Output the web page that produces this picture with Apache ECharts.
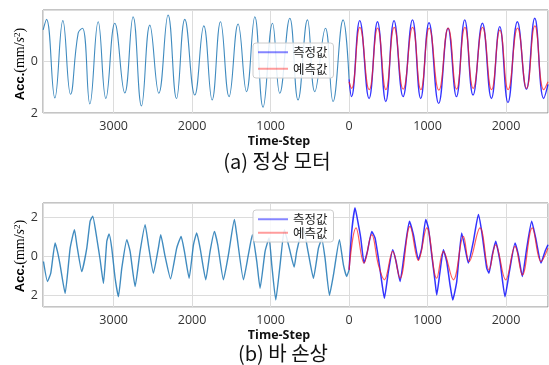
<!DOCTYPE html>
<html>
<head>
<meta charset="utf-8">
<script src="https://cdn.jsdelivr.net/npm/echarts@6/dist/echarts.min.js"></script>
<style>
html,body{margin:0;padding:0;background:#fff;}
#chart{width:549px;height:365px;}
</style>
</head>
<body>
<div id="chart"></div>
<script>
// ---------- data ----------
const legendNames = ['측정값', '예측값'];
const captions = ['(a) 정상 모터', '(b) 바 손상'];
const xName = 'Time-Step';

// Panel (a) normal motor: history (steps before 0 shown as negative)
const aHistSteps = [-3898,-3855,-3749,-3647,-3549,-3452,-3396,-3303,-3197,-3099,-2985,-2858,-2752,-2645,-2539,-2424,-2306,-2199,-2093,-1966,-1851,-1745,-1638,-1529,-1414,-1307,-1201,-1096,-976,-883,-755,-650,-530,-437,-301,-204,-76,0];
const aHistVals  = [1.2,1.6,-1.42,1.55,-1.28,1.07,1.26,-1.65,1.51,-1.44,1.45,-1.23,1.7,-1.73,1.38,-1.24,1.77,-1.44,1.6,-1.31,1.35,-1.5,1.51,-1.37,1.42,-1.18,1.7,-1.78,1.45,-1.24,1.64,-1.5,1.58,-1.18,1.26,-1.56,1.58,-0.7];
const aMeasSteps = [0,31,136,255,362,468,573,688,808,913,1019,1142,1261,1368,1474,1580,1699,1814,1920,2025,2145,2260,2366,2480,2535];
const aMeasVals  = [-0.7,-1.37,1.55,-1.44,1.51,-1.56,1.55,-1.37,1.58,-1.44,1.47,-1.63,1.26,-1.37,1.58,-1.31,1.45,-1.44,1.32,-1.6,1.51,-1.09,1.64,-1.44,-0.9];
const aPredSteps = [0,31,138,257,364,470,575,690,810,915,1021,1144,1263,1370,1476,1582,1701,1816,1922,2027,2147,2262,2368,2482,2535];
const aPredVals  = [-0.8,-1.05,1.29,-1.1,1.26,-1.1,1.29,-1.08,1.29,-1.1,1.26,-1.12,1.26,-1.08,1.29,-1.05,1.29,-1.1,1.19,-1.1,1.26,-1.05,1.35,-1.1,-0.8];

// Panel (b) broken bar
const bHistSteps = [-3894,-3843,-3801,-3746,-3716,-3682,-3618,-3554,-3499,-3469,-3406,-3342,-3300,-3266,-3215,-3172,-3130,-3087,-3058,-3024,-2981,-2939,-2896,-2832,-2790,-2726,-2663,-2599,-2557,-2493,-2430,-2400,-2344,-2275,-2196,-2140,-2098,-2038,-1983,-1941,-1898,-1826,-1771,-1716,-1673,-1601,-1537,-1461,-1431,-1346,-1283,-1232,-1176,-1134,-1070,-1019,-985,-934,-879,-824,-760,-700,-667,-586,-520,-454,-390,-348,-306,-250,-199,-123,-72,-30,0];
const bHistVals  = [-0.26,-1.29,-0.86,0.69,0.26,-0.43,-1.9,0.43,1.38,0.6,-0.78,0.43,1.81,2.07,0.95,-0.17,-1.38,0.78,1.16,0.43,-1.12,-2.07,-0.6,0.86,0.26,-1.55,0.26,1.64,0.6,-0.86,0.43,1.12,0,-1.15,0.43,1.03,0.26,-1.12,0.6,1.21,0.43,-1.2,0.26,1.29,0.6,-1.2,0.09,1.9,1.12,-1.2,0.09,1.12,-0.26,-1.64,0.26,0.95,-0.43,-2.24,-0.43,1.38,0.4,-0.55,0.26,1.5,0.2,-1.12,0.43,0.9,-0.09,-2.0,-0.95,0.86,-0.43,-1.03,-0.69];
const bMeasSteps = [0,34,76,119,149,191,234,289,331,374,416,450,501,556,599,650,713,769,820,883,926,977,1011,1053,1096,1117,1159,1202,1244,1287,1321,1372,1435,1478,1520,1584,1648,1690,1754,1783,1826,1868,1924,1987,2043,2115,2157,2208,2264,2327,2378,2446,2497,2535];
const bMeasVals  = [-0.69,1.29,2.5,1.64,0.95,-0.34,0.26,1.29,0.95,-0.09,-1.29,-2.15,-0.78,0.34,-0.26,-1.29,0.43,1.81,1.12,-0.17,0.43,1.9,1.47,0.09,-1.29,-1.98,-0.78,0.34,-0.26,-1.47,-2.24,-1.29,1.21,0.43,-0.34,0.78,2.16,1.29,-0.6,-0.86,0.09,0.78,-0.26,-2.07,-0.78,0.69,0.09,-1.03,0.43,1.81,0.95,-0.34,0.26,0.6];
const bPredSteps = [0,89,191,289,374,450,556,650,777,883,990,1117,1202,1329,1457,1529,1669,1783,1868,1996,2115,2208,2335,2446,2535];
const bPredVals  = [-0.69,1.47,-0.34,1.12,-0.43,-1.2,0.26,-1.12,1.55,-0.2,1.47,-1.12,0.26,-1.2,1.03,-0.26,1.47,-0.69,0.6,-1.2,0.52,-0.95,1.47,-0.26,0.43];

// axis ranges / ticks
const xRange = [-3900, 2535];
const xStep = 1000;
const aYRange = [-2, 1.96];
const bYRange = [-2.6, 2.75];
const yStep = 2;

// ---------- build ----------
const zip = (s, v) => s.map((x, i) => [x, v[i]]);
const tickFont = 'Open Sans';

function xAxisCfg(gridIndex) {
  return {
    type: 'value', gridIndex, min: xRange[0], max: xRange[1],
    minInterval: xStep, maxInterval: xStep,
    axisLine: {show: false}, axisTick: {show: false},
    splitLine: {show: true, lineStyle: {color: '#dcdcdc', width: 1}},
    axisLabel: {
      margin: 7, fontSize: 12.5, color: '#333', fontFamily: tickFont,
      showMinLabel: false, showMaxLabel: false,
      formatter: v => (Math.abs(v % xStep) < 1e-6 ? String(Math.abs(v)) : '')
    }
  };
}
function yAxisCfg(gridIndex, r) {
  return {
    type: 'value', gridIndex, min: r[0], max: r[1],
    minInterval: yStep, maxInterval: yStep,
    axisLine: {show: false}, axisTick: {show: false},
    splitLine: {show: true, lineStyle: {color: '#dcdcdc', width: 1}},
    axisLabel: {
      margin: 5, fontSize: 12.5, color: '#333', fontFamily: tickFont,
      showMinLabel: r[0] % yStep === 0, showMaxLabel: false,
      formatter: v => (Math.abs(v % yStep) < 1e-6 ? String(Math.abs(v)) : '')
    }
  };
}
function lineSeries(name, data, idx, color, width, smooth, z) {
  return {
    name, type: 'line', data, xAxisIndex: idx, yAxisIndex: idx,
    showSymbol: false, symbol: 'none', smooth, z,
    lineStyle: {color, width}, itemStyle: {color},
    emphasis: {disabled: true}, animation: false
  };
}
const histColor = 'rgba(31,119,180,0.85)';
const measColor = 'rgba(0,0,255,0.8)';
const predColor = 'rgba(255,20,20,0.7)';

function legendCfg(top, gap) {
  return {
    data: legendNames, orient: 'vertical', left: 253, top,
    itemWidth: 30, itemHeight: 2, itemGap: gap, icon: 'rect',
    padding: [3, 6, 3, 5],
    backgroundColor: 'rgba(255,255,255,0.85)', borderColor: '#cccccc', borderWidth: 1, borderRadius: 3,
    textStyle: {fontSize: 12.5, color: '#222', fontFamily: 'Noto Sans CJK KR'},
    itemStyle: {opacity: 0.6},
    selectedMode: false
  };
}

const yNameRich = {
  a: {fontFamily: 'Liberation Sans', fontWeight: 'bold', fontSize: 13, color: '#222'},
  b: {fontFamily: 'Liberation Serif', fontSize: 14, color: '#222'},
  i: {fontFamily: 'Liberation Serif', fontStyle: 'italic', fontSize: 14, color: '#222'},
  s: {fontFamily: 'Liberation Serif', fontSize: 9, color: '#222', verticalAlign: 'top', lineHeight: 14}
};
function yName(cx, cy) {
  return {
    type: 'text', x: cx, y: cy, rotation: Math.PI / 2,
    style: {text: '{a|Acc.}{b|(mm/}{i|s}{s|2}{b|)}', rich: yNameRich, align: 'center', verticalAlign: 'middle'}
  };
}
function label(text, cx, cy, size, weight, family) {
  return {
    type: 'text', x: cx, y: cy,
    style: {text, fontSize: size, fontWeight: weight, fontFamily: family, fill: '#111', align: 'center', verticalAlign: 'middle'}
  };
}

const option = {
  animation: false,
  grid: [
    {left: 43, right: 1, top: 10, height: 103, show: true, borderColor: '#8a8a8a', borderWidth: 1, backgroundColor: 'transparent'},
    {left: 43, right: 1, top: 203, height: 104, show: true, borderColor: '#8a8a8a', borderWidth: 1, backgroundColor: 'transparent'}
  ],
  xAxis: [xAxisCfg(0), xAxisCfg(1)],
  yAxis: [yAxisCfg(0, aYRange), yAxisCfg(1, bYRange)],
  legend: [legendCfg(43, 4), legendCfg(210, 1)],
  series: [
    lineSeries('hist-a', zip(aHistSteps, aHistVals), 0, histColor, 1.1, 0.45, 2),
    lineSeries(legendNames[0], zip(aMeasSteps, aMeasVals), 0, measColor, 1.4, 0.45, 3),
    lineSeries(legendNames[1], zip(aPredSteps, aPredVals), 0, predColor, 1.2, 0.5, 4),
    lineSeries('hist-b', zip(bHistSteps, bHistVals), 1, histColor, 1.4, 0.15, 2),
    lineSeries(legendNames[0], zip(bMeasSteps, bMeasVals), 1, measColor, 1.5, 0.15, 3),
    lineSeries(legendNames[1], zip(bPredSteps, bPredVals), 1, predColor, 1.2, 0.4, 4)
  ],
  graphic: [
    yName(20, 64),
    yName(20, 256),
    label(xName, 279, 141, 12.5, 'bold', 'Open Sans'),
    label(captions[0], 277, 161, 20, 'normal', 'Noto Sans CJK KR'),
    label(xName, 279, 335, 12.5, 'bold', 'Open Sans'),
    label(captions[1], 283, 353, 20, 'normal', 'Noto Sans CJK KR')
  ]
};

const chart = echarts.init(document.getElementById('chart'), null, {renderer: 'canvas'});
chart.setOption(option);
</script>
</body>
</html>
